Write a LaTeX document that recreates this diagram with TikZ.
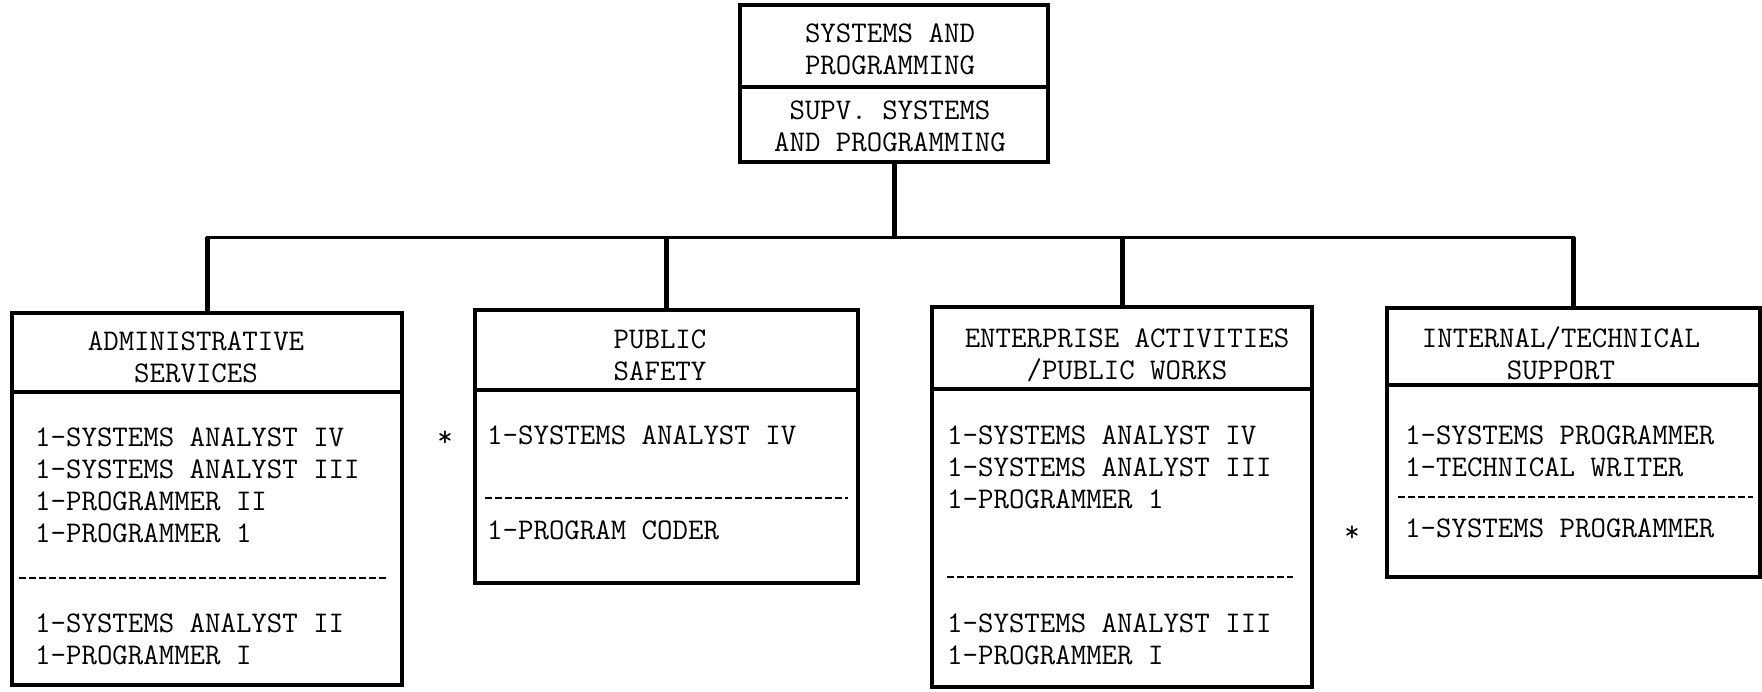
\documentclass[tikz,border=0pt]{standalone}
\usepackage{fontspec}

\tikzset{
  unitbox/.style={draw, line width=3.5pt, anchor=north west, inner sep=0pt, outer sep=0pt},
  link/.style={line width=5pt},
  busline/.style={line width=3pt, line cap=rect},
  sep/.style={line width=1.5pt, dash pattern=on 7pt off 3pt},
  headtext/.style={align=center, inner sep=0pt, font=\ttfamily\fontsize{30}{32}\selectfont},
  stafftext/.style={align=left, anchor=north west, inner sep=0pt, font=\ttfamily\fontsize{30}{32}\selectfont},
}

\begin{document}
\begin{tikzpicture}[x=1pt,y=-1pt]
	%%%%% START %%%%%
	\useasboundingbox (0,0) rectangle (1762,691);
	\clip (0,0) rectangle (1762,691);
	
	% top box
	\node[unitbox, minimum width=308, minimum height=82] (spH) at (740,5) {};
	\node[unitbox, minimum width=308, minimum height=75] (spB) at (740,87) {};
	\node[headtext] (spHt) at (890,49) {SYSTEMS AND\\PROGRAMMING};
	\node[headtext] (spBt) at (890,126) {SUPV. SYSTEMS\\AND PROGRAMMING};
	
	% sections
	\node[unitbox, minimum width=390, minimum height=79] (admH) at (12,313) {};
	\node[unitbox, minimum width=390, minimum height=293] (admB) at (12,392) {};
	
	\node[unitbox, minimum width=383, minimum height=80] (psH) at (475,310) {};
	\node[unitbox, minimum width=383, minimum height=193] (psB) at (475,390) {};
	
	\node[unitbox, minimum width=380, minimum height=82] (eaH) at (932,307) {};
	\node[unitbox, minimum width=380, minimum height=298] (eaB) at (932,389) {};
	
	\node[unitbox, minimum width=373, minimum height=77] (itH) at (1387,308) {};
	\node[unitbox, minimum width=373, minimum height=192] (itB) at (1387,385) {};
	
	% connectors
	\coordinate (bus) at (0,237);
	\draw[link] (spB.south) -- (spB.south |- bus);
	\draw[busline] (admH.north |- bus) -- (itH.north |- bus);
	\foreach \u in {admH,psH,eaH,itH}
		\draw[link] (\u.north |- bus) -- (\u.north);
	
	% headings
	\node[headtext] (admHt) at (196,357) {ADMINISTRATIVE\\SERVICES};
	\node[headtext] (psHt) at (660,355) {PUBLIC\\SAFETY};
	\node[headtext] (eaHt) at (1127,355) {ENTERPRISE ACTIVITIES\\/PUBLIC WORKS};
	\node[headtext] (itHt) at (1561,353) {INTERNAL/TECHNICAL\\SUPPORT};
	
	% positions
	\node[stafftext] (admA) at (35,428) {1-SYSTEMS ANALYST IV\\1-SYSTEMS ANALYST III\\1-PROGRAMMER II\\1-PROGRAMMER 1};
	\draw[sep] (19,578) -- (388,578);
	\node[stafftext] (admN) at (35,614) {1-SYSTEMS ANALYST II\\1-PROGRAMMER I};
	
	\node[stafftext] (psA) at (487,426) {1-SYSTEMS ANALYST IV};
	\draw[sep] (485,498) -- (848,498);
	\node[stafftext] (psN) at (487,521) {1-PROGRAM CODER};
	
	\node[stafftext] (eaA) at (947,426) {1-SYSTEMS ANALYST IV\\1-SYSTEMS ANALYST III\\1-PROGRAMMER 1};
	\draw[sep] (947,577) -- (1293,577);
	\node[stafftext] (eaN) at (947,614) {1-SYSTEMS ANALYST III\\1-PROGRAMMER I};
	
	\node[stafftext] (itA) at (1405,426) {1-SYSTEMS PROGRAMMER\\1-TECHNICAL WRITER};
	\draw[sep] (1398,497) -- (1753,497);
	\node[stafftext] (itN) at (1405,519) {1-SYSTEMS PROGRAMMER};
	
	% marks
	\node[stafftext, anchor=base] (psStar) at (445,446) {*};
	\node[stafftext, anchor=base] (itStar) at (1352,541) {*};
	
	%%%%% END %%%%%
\end{tikzpicture}
\end{document}
